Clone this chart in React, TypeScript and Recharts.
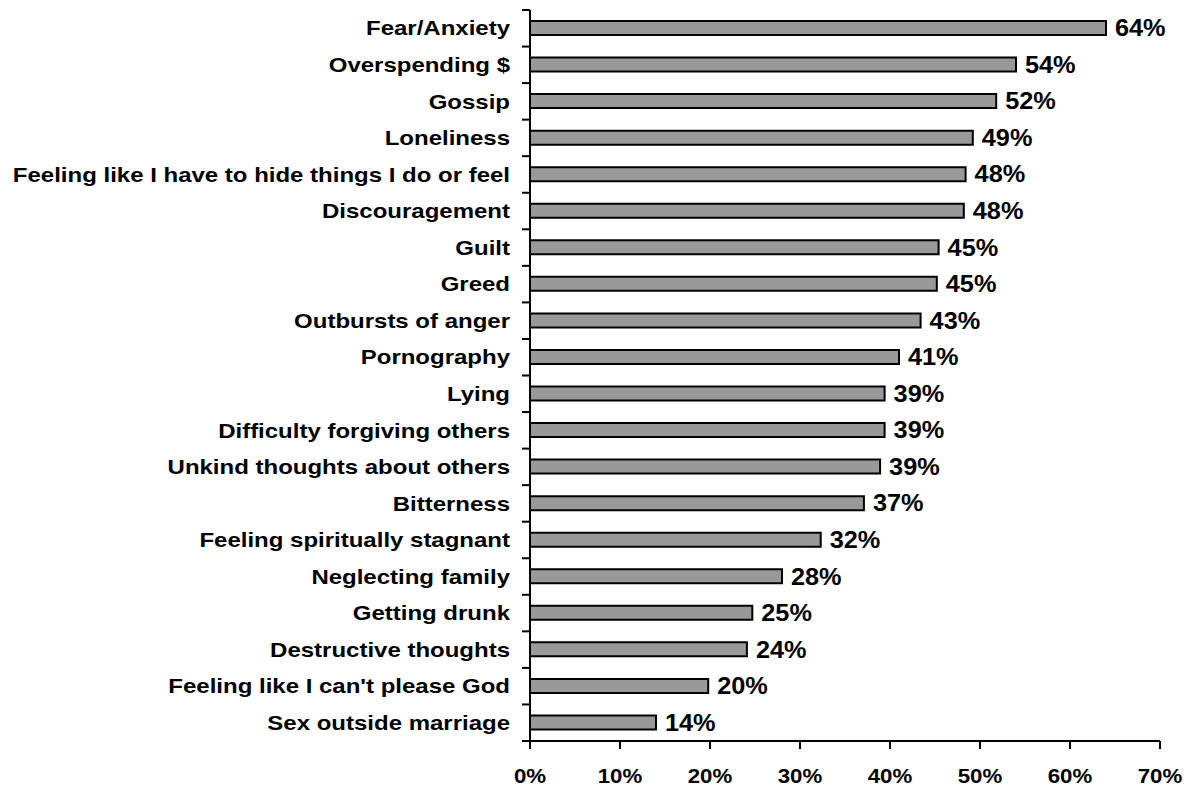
import { BarChart, Bar, XAxis, YAxis, LabelList } from 'recharts'

const categories = [
  'Fear/Anxiety',
  'Overspending $',
  'Gossip',
  'Loneliness',
  'Feeling like I have to hide things I do or feel',
  'Discouragement',
  'Guilt',
  'Greed',
  'Outbursts of anger',
  'Pornography',
  'Lying',
  'Difficulty forgiving others',
  'Unkind thoughts about others',
  'Bitterness',
  'Feeling spiritually stagnant',
  'Neglecting family',
  'Getting drunk',
  'Destructive thoughts',
  "Feeling like I can't please God",
  'Sex outside marriage',
]

const values = [64.0, 54.0, 51.8, 49.2, 48.4, 48.2, 45.4, 45.2, 43.4, 41.0, 39.4, 39.4, 38.9, 37.1, 32.3, 28.0, 24.7, 24.1, 19.8, 14.0]

const xTicks = [0, 10, 20, 30, 40, 50, 60, 70]

const data = categories.map((name, i) => ({ name, value: values[i] }))

// source picture is a bit stretched sideways, text gets a horizontal scale to match
const FONT = '"Liberation Sans", Arial, Helvetica, sans-serif'

const CategoryTick = (props: any) => {
  const { x, y, payload, index } = props
  const half = payload?.offset ?? 18.3
  const lineX1 = x + 12
  const lineX2 = x + 20
  return (
    <g>
      <line x1={lineX1} x2={lineX2} y1={y - half} y2={y - half} stroke="#000" strokeWidth={2} />
      {index === categories.length - 1 && (
        <line x1={lineX1} x2={lineX2} y1={y + half} y2={y + half} stroke="#000" strokeWidth={2} />
      )}
      <text
        transform={`translate(${x},${y}) scale(1.2,1)`}
        textAnchor="end"
        dy="0.36em"
        fontSize={20}
        fontWeight="bold"
        fontFamily={FONT}
        fill="#000"
      >
        {payload.value}
      </text>
    </g>
  )
}

const PercentTick = (props: any) => {
  const { x, y, payload } = props
  return (
    <text
      transform={`translate(${x},${y}) scale(1.06,1)`}
      textAnchor="middle"
      dy="0.71em"
      fontSize={21}
      fontWeight="bold"
      fontFamily={FONT}
      fill="#000"
    >
      {`${payload.value}%`}
    </text>
  )
}

const ValueLabel = (props: any) => {
  const { x, y, width, height, value } = props
  const tx = Number(x) + Number(width) + 9
  const ty = Number(y) + Number(height) / 2
  return (
    <text
      transform={`translate(${tx},${ty}) scale(1.1,1)`}
      dy="0.36em"
      fontSize={23}
      fontWeight="bold"
      fontFamily={FONT}
      fill="#000"
    >
      {`${Math.round(Number(value))}%`}
    </text>
  )
}

const App = () => {
  return (
    <div style={{ position: 'absolute', left: 0, top: 0, background: '#fff' }}>
      <BarChart
        width={1191}
        height={788}
        data={data}
        layout="vertical"
        margin={{ top: 10, right: 31, bottom: 0, left: 0 }}
        barCategoryGap={0}
      >
        <XAxis
          type="number"
          domain={[0, 70]}
          ticks={xTicks}
          height={47}
          axisLine={{ stroke: '#000', strokeWidth: 2 }}
          tickLine={{ stroke: '#000', strokeWidth: 2 }}
          tickSize={8}
          tickMargin={19}
          tick={<PercentTick />}
          interval={0}
        />
        <YAxis
          type="category"
          dataKey="name"
          width={530}
          axisLine={{ stroke: '#000', strokeWidth: 2 }}
          tickLine={{ stroke: 'none' }}
          tickSize={8}
          tickMargin={12}
          tick={<CategoryTick />}
          interval={0}
        />
        <Bar dataKey="value" fill="#999999" stroke="#000" strokeWidth={2} barSize={14} isAnimationActive={false}>
          <LabelList dataKey="value" content={<ValueLabel />} />
        </Bar>
      </BarChart>
    </div>
  )
}

export default App
